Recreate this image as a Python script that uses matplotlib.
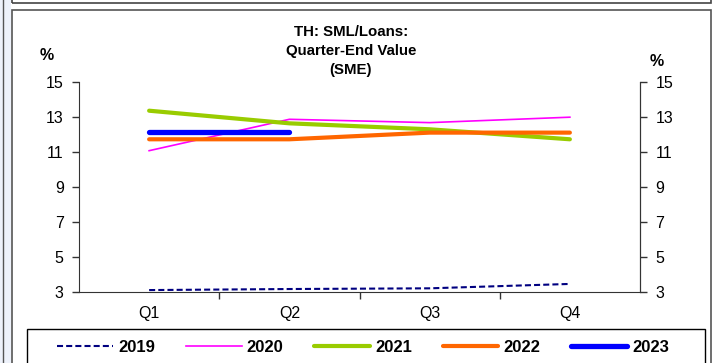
import matplotlib
matplotlib.use("Agg")
import matplotlib.pyplot as plt
from matplotlib.patches import Rectangle
from matplotlib.lines import Line2D

plt.rcParams['font.family'] = ['Liberation Sans', 'DejaVu Sans']

###################################
# Quarter-end SML/loans ratio for SMEs, %

quarters = ['Q1', 'Q2', 'Q3', 'Q4']
y2019 = [3.11, 3.17, 3.21, 3.46]
y2020 = [11.06, 12.85, 12.66, 12.97]
y2021 = [13.34, 12.62, 12.28, 11.71]
y2022 = [11.71, 11.71, 12.09, 12.09]
y2023 = [12.13, 12.13]
yticks = [3, 5, 7, 9, 11, 13, 15]
years = ['2019', '2020', '2021', '2022', '2023']

# one style per year
styles = [dict(color='#000080', lw=1.5, ls=(0, (2.9, 1.5))),
          dict(color='#FF00FF', lw=1.2),
          dict(color='#99CC00', lw=3.0, solid_capstyle='round'),
          dict(color='#FF6600', lw=3.0, solid_capstyle='round'),
          dict(color='#0000FF', lw=3.8, solid_capstyle='round')]

fig = plt.figure(figsize=(7.12, 3.63), dpi=100)

# outer frames
fig.patches.append(Rectangle((12 / 712, -0.1), 699 / 712, 1.1 - 10 / 363, transform=fig.transFigure,
                             fill=False, edgecolor='#555555', lw=1.2))
fig.patches.append(Rectangle((12 / 712, 1 - 3 / 363), 699 / 712, 0.1, transform=fig.transFigure,
                             fill=False, edgecolor='#444444', lw=1.2))
fig.patches.append(Rectangle((0, 0), 11 / 712, 1, transform=fig.transFigure,
                             facecolor='#eef2fb', edgecolor='none'))
fig.lines.append(Line2D([3 / 712, 3 / 712], [0, 1], transform=fig.transFigure, color='#555555', lw=1))

ax = fig.add_axes([79 / 712, 1 - 292 / 363, 561 / 712, (292 - 81.6) / 363])
x = list(range(len(quarters)))

for vals, st in zip([y2019, y2020, y2021, y2022, y2023], styles):
    ax.plot(x[:len(vals)], vals, **st)

ax.set_xlim(-0.5, 3.5)
ax.set_ylim(3, 15)
ax.set_yticks(yticks)
ax.tick_params(axis='y', direction='out', length=5, pad=6, labelsize=11.5, width=1,
               colors='#333333', labelcolor='black')
ax.set_xticks([0.5, 1.5, 2.5])
ax.set_xticklabels([])
ax.set_xticks(x, minor=True)
ax.set_xticklabels(quarters, minor=True)
ax.tick_params(axis='x', which='major', direction='out', length=5, width=1, colors='#333333')
ax.tick_params(axis='x', which='minor', length=0, labelsize=11.5, pad=10)
ax.spines['top'].set_visible(False)
for s in ['left', 'right', 'bottom']:
    ax.spines[s].set_color('#333333')

ax2 = ax.twinx()
ax2.set_ylim(3, 15)
ax2.set_yticks(yticks)
ax2.tick_params(axis='y', direction='out', length=5, pad=6, labelsize=11.5, width=1,
                colors='#333333', labelcolor='black')
for s in ['top', 'left', 'bottom']:
    ax2.spines[s].set_visible(False)
ax2.spines['right'].set_color('#333333')

title_font = dict(fontsize=10.8, fontweight='bold')
fig.text(351 / 712, 1 - 36 / 363, 'TH: SML/Loans:', ha='center', va='baseline', **title_font)
fig.text(351 / 712, 1 - 55 / 363, 'Quarter-End Value', ha='center', va='baseline', **title_font)
fig.text(351 / 712, 1 - 74 / 363, '(SME)', ha='center', va='baseline', **title_font)
fig.text(47 / 712, 1 - 55 / 363, '%', ha='center', va='center', fontsize=11.5, fontweight='bold')
fig.text(657 / 712, 1 - 62 / 363, '%', ha='center', va='center', fontsize=11.5, fontweight='bold')

# legend strip
handles = [Line2D([], [], **st) for st in styles]
fig.patches.append(Rectangle((27 / 712, -0.1), 678 / 712, 0.1 + (363 - 329) / 363, transform=fig.transFigure,
                             fill=False, edgecolor='black', lw=1))
leg = fig.legend(handles, years, ncol=5, loc='center',
                 bbox_to_anchor=(363 / 712, 1 - 347 / 363), frameon=False, handlelength=3.35,
                 columnspacing=1.85, handletextpad=0.3, prop={'weight': 'bold', 'size': 12})

fig.savefig('out.png', dpi=100)
